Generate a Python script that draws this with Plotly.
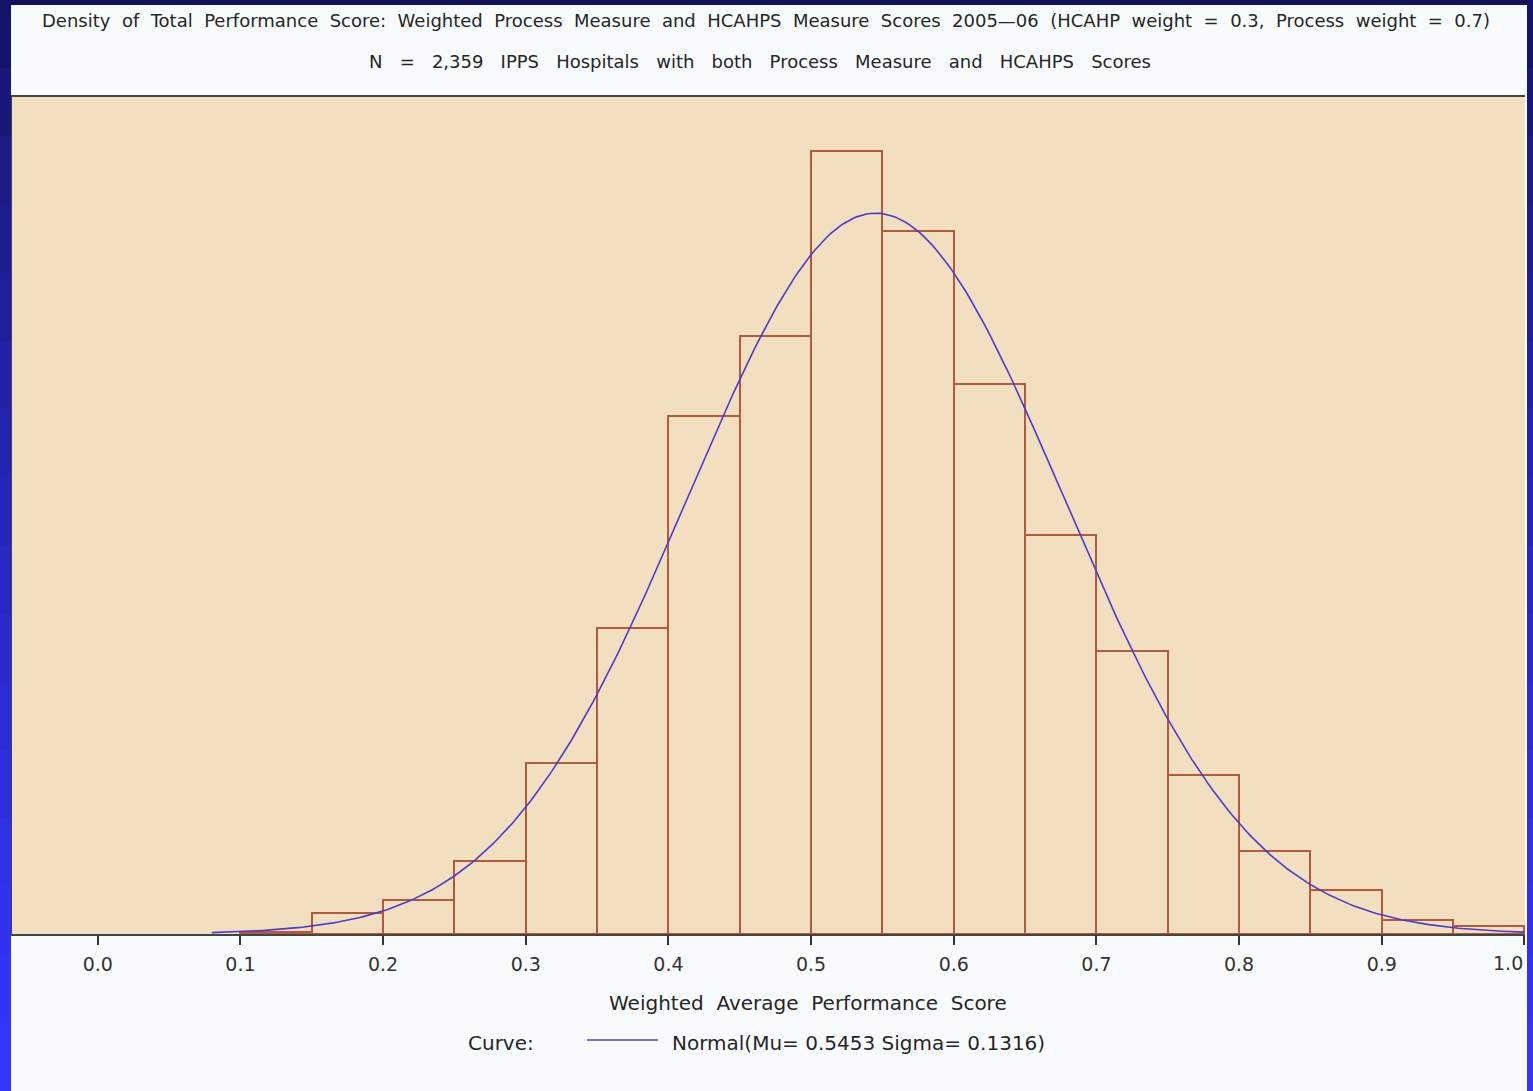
import numpy as np
import plotly.graph_objects as go

# ---------------- data ----------------
bin_left = [0.10, 0.15, 0.20, 0.25, 0.30, 0.35, 0.40, 0.45, 0.50,
            0.55, 0.60, 0.65, 0.70, 0.75, 0.80, 0.85, 0.90, 0.95]
percent = [0.04, 0.44, 0.71, 1.53, 3.59, 6.43, 10.89, 12.57, 16.46,
           14.78, 11.56, 8.39, 5.95, 3.34, 1.74, 0.92, 0.29, 0.17]
BIN_WIDTH = 0.05
MU = 0.5453
SIGMA = 0.1316
x_ticks = [0.0, 0.1, 0.2, 0.3, 0.4, 0.5, 0.6, 0.7, 0.8, 0.9, 1.0]

title1 = ("Density of Total Performance Score: Weighted Process Measure and HCAHPS "
          "Measure Scores 2005\u201406 (HCAHP weight = 0.3, Process weight = 0.7)")
title2 = "N = 2,359 IPPS Hospitals with both Process Measure and HCAHPS Scores"
xlabel = "Weighted Average Performance Score"
legend_title = "Curve:"
legend_label = "Normal(Mu= 0.5453 Sigma= 0.1316)"


def spaced(s, n=2):
    return s.replace(" ", " " + "\u00a0" * n)


# ---------------- layout geometry ----------------
W, H = 1533, 1091
L, R, T, B = 12, 1525, 97, 934
PW, PH = R - L, B - T


def px2x(px):
    return (px - L) / PW


def py2y(py):
    return (B - py) / PH


FONT = "DejaVu Sans, Liberation Sans, Arial, sans-serif"
TXT = "#262626"
BAR_LINE = "#b25a3c"
CURVE = "#4a3ccf"
PLOT_BG = "#f2dfbf"

centers = [b + BIN_WIDTH / 2 for b in bin_left]

xs = np.linspace(0.08, 1.0, 400)
ys = 100 * BIN_WIDTH * np.exp(-0.5 * ((xs - MU) / SIGMA) ** 2) / (SIGMA * np.sqrt(2 * np.pi))

fig = go.Figure()
fig.add_trace(go.Bar(
    x=centers, y=percent, width=BIN_WIDTH,
    marker=dict(color="rgba(0,0,0,0)", line=dict(color=BAR_LINE, width=2)),
    showlegend=False, hoverinfo="x+y",
))
fig.add_trace(go.Scatter(
    x=xs, y=ys, mode="lines", line=dict(color=CURVE, width=1.6),
    showlegend=False, name="Normal",
))

annotations = []
# titles
annotations.append(dict(text=spaced(title1, 1), xref="paper", yref="paper",
                        x=px2x(766), y=py2y(20), xanchor="center", yanchor="middle",
                        showarrow=False, font=dict(family=FONT, size=18, color=TXT)))
annotations.append(dict(text=spaced(title2, 2), xref="paper", yref="paper",
                        x=px2x(760), y=py2y(61), xanchor="center", yanchor="middle",
                        showarrow=False, font=dict(family=FONT, size=18, color=TXT)))
# x axis title
annotations.append(dict(text=spaced(xlabel, 1), xref="paper", yref="paper",
                        x=px2x(808), y=py2y(1003), xanchor="center", yanchor="middle",
                        showarrow=False, font=dict(family=FONT, size=20, color=TXT)))
# last tick label (the axis hides it because it would run past the edge)
annotations.append(dict(text="%.1f" % x_ticks[-1], xref="x", yref="paper",
                        x=x_ticks[-1], xshift=1, y=py2y(963), xanchor="right", yanchor="middle",
                        showarrow=False, font=dict(family=FONT, size=19, color="#333")))
# legend
annotations.append(dict(text=legend_title, xref="paper", yref="paper",
                        x=px2x(466), y=py2y(1043), xanchor="left", yanchor="middle",
                        showarrow=False, font=dict(family=FONT, size=20, color=TXT)))
annotations.append(dict(text=legend_label, xref="paper", yref="paper",
                        x=px2x(670), y=py2y(1043), xanchor="left", yanchor="middle",
                        showarrow=False, font=dict(family=FONT, size=20, color=TXT)))


# blue slide frame (gradient strips drawn as boxes above the text)
def lerp_col(c1, c2, t):
    a = [int(c1[i:i + 2], 16) for i in (1, 3, 5)]
    b = [int(c2[i:i + 2], 16) for i in (1, 3, 5)]
    return "#%02x%02x%02x" % tuple(int(round(a[k] + (b[k] - a[k]) * t)) for k in range(3))


NSEG = 16
seg_h = H / NSEG
for i in range(NSEG):
    t = i / (NSEG - 1)
    col = lerp_col("#14146a", "#3535ff", t ** 0.8)
    for (x0, wdt) in [(0, 11), (1527, 6)]:
        annotations.append(dict(text=" ", xref="paper", yref="paper",
                                x=px2x(x0), y=py2y(i * seg_h), xanchor="left", yanchor="top",
                                width=wdt, height=seg_h + 1, borderpad=0, borderwidth=0,
                                bgcolor=col, showarrow=False))

shapes = [
    dict(type="rect", xref="paper", yref="paper", x0=px2x(0), x1=px2x(W),
         y0=py2y(0), y1=py2y(5), fillcolor="#13135c", line=dict(width=0), layer="above"),
    dict(type="line", xref="paper", yref="paper", x0=px2x(587), x1=px2x(658),
         y0=py2y(1040), y1=py2y(1040), line=dict(color=CURVE, width=1.6)),
]

fig.update_layout(
    width=W, height=H, autosize=False,
    margin=dict(l=L, r=W - R, t=T, b=H - B, pad=0),
    paper_bgcolor="#f8fbfb", plot_bgcolor=PLOT_BG,
    bargap=0, showlegend=False,
    annotations=annotations, shapes=shapes,
    font=dict(family=FONT, color=TXT),
    modebar=dict(bgcolor="rgba(0,0,0,0)", color="rgba(0,0,0,0)",
                 activecolor="rgba(0,0,0,0)"),
    xaxis=dict(range=[-0.0601, 1.0004], tickvals=x_ticks, tickformat=".1f",
               ticks="outside", ticklen=9, tickwidth=2, tickcolor="#333",
               showline=True, linecolor="#444", linewidth=2, mirror=True,
               showgrid=False, zeroline=False, ticklabelstandoff=3,
               tickfont=dict(family=FONT, size=19, color="#333")),
    yaxis=dict(range=[0, 17.6], showticklabels=False, ticks="",
               showline=True, linecolor="#444", linewidth=2, mirror=False,
               showgrid=False, zeroline=False),
)

fig.write_html("out.html", config={"displayModeBar": False, "responsive": False},
               post_script="document.body.style.margin='0';document.body.style.overflow='hidden';")
